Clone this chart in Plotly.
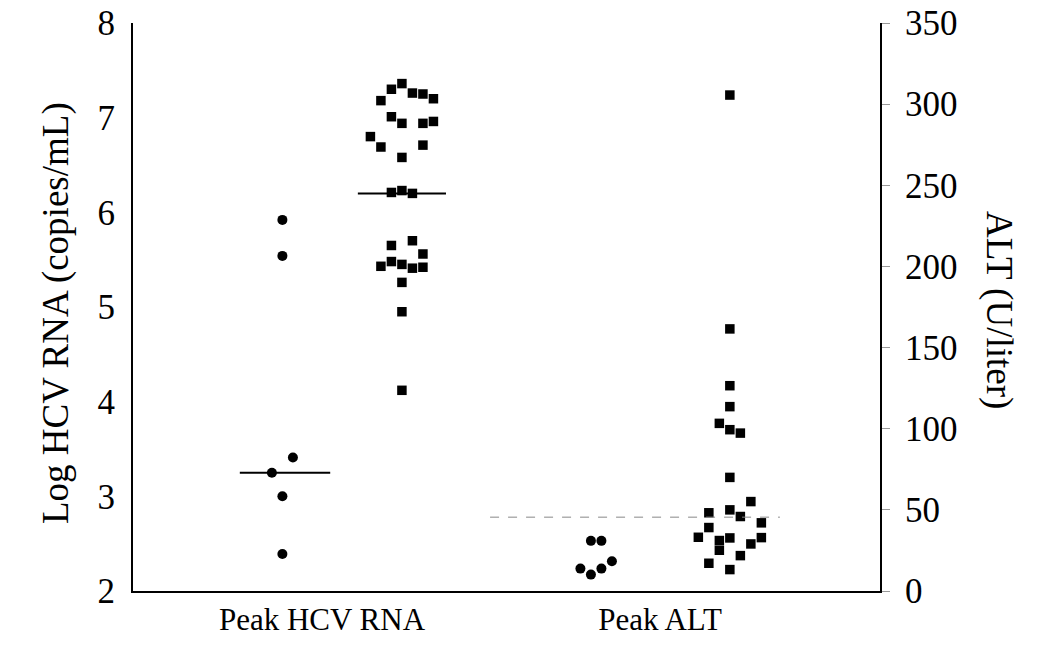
import plotly.graph_objects as go

# ---- data ----
# Peak HCV RNA, log copies/mL
hcv_circ_vals = [5.92, 5.54, 3.41, 3.25, 3.00, 2.39]
hcv_circ_slot = [0, 0, 1, -1, 0, 0]
hcv_sq_vals = [7.36, 7.30, 7.26, 7.25, 7.20, 7.18, 7.01, 6.94, 6.94, 6.96,
               6.80, 6.69, 6.71, 6.58, 6.21, 6.23, 6.20, 5.70, 5.65, 5.56,
               5.48, 5.43, 5.45, 5.41, 5.42, 5.26, 4.95, 4.12]
hcv_sq_slot = [0, -1, 1, 2, 3, -2, -1, 0, 2, 3,
               -3, -2, 2, 0, -1, 0, 1, 1, -1, 2,
               -1, -2, 0, 1, 2, 0, 0, 0]
# Peak ALT, U/liter
alt_circ_vals = [30.9, 30.9, 18.3, 13.8, 13.8, 10.1]
alt_circ_slot = [0, 1, 2, -1, 1, 0]
alt_sq_vals = [305.6, 161.5, 126.5, 113.6, 103.3, 99.4, 97.3, 70.0, 55.1, 48.2,
               50.0, 45.9, 42.0, 39.1, 33.1, 31.1, 32.7, 32.9, 29.0, 25.1,
               21.8, 17.1, 13.2]
alt_sq_slot = [0, 0, 0, 0, -1, 0, 1, 0, 2, -2,
               0, 1, 3, -2, -3, -1, 0, 3, 2, -1,
               1, -2, 0]
# medians
hcv_circ_median = 3.25
hcv_sq_median = 6.20
alt_median = 45.5
categories = ["Peak HCV RNA", "Peak ALT"]

# ---- layout positions ----
STEP = 0.1406
pos = {"hcv_c": 2.0, "hcv_s": 3.6, "alt_c": 6.13, "alt_s": 7.99}
cat_pos = [2.53, 7.055]

def xs(center, slots):
    return [center + s * STEP for s in slots]

fig = go.Figure()
circ = dict(symbol="circle", size=10, color="black")
sq = dict(symbol="square", size=9.5, color="black")

fig.add_trace(go.Scatter(x=xs(pos["hcv_c"], hcv_circ_slot), y=hcv_circ_vals,
                         mode="markers", marker=circ, yaxis="y"))
fig.add_trace(go.Scatter(x=xs(pos["hcv_s"], hcv_sq_slot), y=hcv_sq_vals,
                         mode="markers", marker=sq, yaxis="y"))
fig.add_trace(go.Scatter(x=xs(pos["alt_c"], alt_circ_slot), y=alt_circ_vals,
                         mode="markers", marker=circ, yaxis="y2"))
fig.add_trace(go.Scatter(x=xs(pos["alt_s"], alt_sq_slot), y=alt_sq_vals,
                         mode="markers", marker=sq, yaxis="y2"))

# median lines
fig.add_trace(go.Scatter(x=[1.43, 2.64], y=[hcv_circ_median] * 2, mode="lines",
                         line=dict(color="black", width=2), yaxis="y"))
fig.add_trace(go.Scatter(x=[3.01, 4.19], y=[hcv_sq_median] * 2, mode="lines",
                         line=dict(color="black", width=2), yaxis="y"))
fig.add_trace(go.Scatter(x=[4.78, 8.66], y=[alt_median] * 2, mode="lines",
                         line=dict(color="#888888", width=1, dash="dash"), yaxis="y2"))

serif = "Liberation Serif, Times New Roman, serif"
L, T, PW, PH = 133, 23, 747, 568
fig.update_layout(
    width=1050, height=654,
    margin=dict(l=L, r=1050 - L - PW, t=T, b=654 - T - PH),
    plot_bgcolor="white", paper_bgcolor="white",
    showlegend=False,
    font=dict(family=serif, color="black"),
    xaxis=dict(range=[0, 10], tickvals=cat_pos, ticktext=categories,
               showline=True, linecolor="black", linewidth=2, ticks="",
               showgrid=False, zeroline=False, tickfont=dict(size=31),
               automargin=False),
    yaxis=dict(range=[2, 8], dtick=1, showline=True, linecolor="black", linewidth=2,
               ticks="outside", ticklen=9, tickcolor="white", showgrid=False,
               zeroline=False, tickfont=dict(size=35), automargin=False,
               ticklabeloverflow="allow"),
    yaxis2=dict(range=[0, 350], dtick=50, overlaying="y", side="right",
                showline=True, linecolor="black", linewidth=2,
                ticks="outside", ticklen=8, tickcolor="#999999", showgrid=False,
                zeroline=False, tickfont=dict(size=35), automargin=False,
                ticklabelstandoff=8, ticklabeloverflow="allow"),
)
# axis titles placed in page pixels (converted to paper coords)
titles = [("Log HCV RNA (copies/mL)", -90, 33, 313),
          ("ALT (U/liter)", 90, 1022, 310)]
for text, ang, px, py in titles:
    fig.add_annotation(text=text, textangle=ang, x=(px - L) / PW,
                       y=(T + PH - py) / PH, xref="paper", yref="paper",
                       showarrow=False, font=dict(size=37))

fig.write_html("out.html", config={"displayModeBar": False},
               post_script="document.body.style.margin='0';")
